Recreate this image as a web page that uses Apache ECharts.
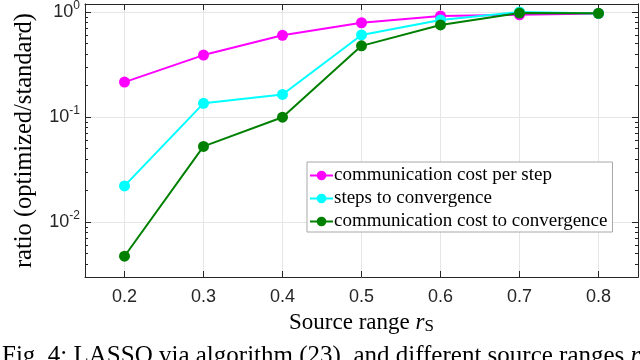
<!DOCTYPE html>
<html>
<head>
<meta charset="utf-8">
<script src="https://cdn.jsdelivr.net/npm/echarts@6/dist/echarts.min.js"></script>
<style>
html, body { margin: 0; padding: 0; background: #fff; }
#chart { width: 640px; height: 360px; }
</style>
</head>
<body>
<div id="chart"></div>
<script>
// source range r_S
let sourceRange = [0.2, 0.3, 0.4, 0.5, 0.6, 0.7, 0.8]
let costPerStep = [0.215, 0.389, 0.60, 0.79, 0.916, 0.94, 0.97]
let stepsToConv = [0.0221, 0.135, 0.164, 0.605, 0.84, 1.0, 0.97]
let costToConv = [0.00473, 0.0525, 0.0996, 0.476, 0.753, 0.978, 0.972]
let seriesNames = ['communication cost per step', 'steps to convergence', 'communication cost to convergence']
let xTicks = [0.2, 0.3, 0.4, 0.5, 0.6, 0.7, 0.8]
let yTicks = [0.01, 0.1, 1]
let yMinorTicks = [0.004, 0.005, 0.006, 0.007, 0.008, 0.009,
    0.02, 0.03, 0.04, 0.05, 0.06, 0.07, 0.08, 0.09,
    0.2, 0.3, 0.4, 0.5, 0.6, 0.7, 0.8, 0.9]

let axisColor = '#262626'
let sansFont = '"Liberation Sans", Arial, sans-serif'
let serifFont = '"Liberation Serif", "Times New Roman", serif'

let chart = echarts.init(document.getElementById('chart'))

function logAxis(pos, ticks, len, extra) {
    return Object.assign({
        type: 'log',
        logBase: 10,
        position: pos,
        min: 0.003,
        max: 1.19,
        axisLine: { show: true, lineStyle: { color: axisColor, width: 1 } },
        axisTick: { show: true, inside: true, length: len, customValues: ticks, lineStyle: { color: axisColor } },
        axisLabel: { show: false },
        splitLine: { show: false }
    }, extra || {})
}

function mkSeries(name, data, color) {
    return {
        name: name,
        type: 'line',
        data: sourceRange.map((x, i) => [x, data[i]]),
        symbol: 'circle',
        symbolSize: 11,
        lineStyle: { color: color, width: 2 },
        itemStyle: { color: color },
        emphasis: { disabled: true }
    }
}

let option = {
    backgroundColor: '#fff',
    animation: false,
    grid: { left: 85, right: 2, top: 3, bottom: 83 },
    legend: {
        orient: 'vertical',
        left: 307,
        top: 162,
        padding: [4, 5, 1, 2],
        itemGap: 4,
        itemWidth: 23,
        itemHeight: 12,
        backgroundColor: '#fff',
        borderColor: '#a8a8a8',
        borderWidth: 1,
        borderRadius: 0,
        textStyle: { fontFamily: serifFont, fontSize: 19, color: '#000', padding: [0, 0, 0, -4] },
        data: seriesNames
    },
    xAxis: [
        {
            type: 'value',
            position: 'bottom',
            min: 0.15,
            max: 0.85,
            name: 'Source range {i|r}{s|S}',
            nameLocation: 'middle',
            nameGap: 33,
            nameTextStyle: {
                fontFamily: serifFont, fontSize: 23, color: '#000',
                rich: {
                    i: { fontFamily: serifFont, fontSize: 23, fontStyle: 'italic', color: '#000' },
                    s: { fontFamily: serifFont, fontSize: 17, color: '#000', padding: [8, 0, 0, 0] }
                }
            },
            axisLine: { show: true, lineStyle: { color: axisColor, width: 1 } },
            axisTick: { show: true, inside: true, length: 6, customValues: xTicks, lineStyle: { color: axisColor } },
            axisLabel: {
                customValues: xTicks,
                fontFamily: sansFont, fontSize: 18, color: axisColor, margin: 11,
                formatter: v => v.toFixed(1)
            },
            splitLine: { show: true, lineStyle: { color: '#e6e6e6', width: 1 } }
        },
        {
            type: 'value',
            position: 'top',
            min: 0.15,
            max: 0.85,
            axisLine: { show: true, lineStyle: { color: axisColor, width: 1 } },
            axisTick: { show: true, inside: true, length: 6, customValues: xTicks, lineStyle: { color: axisColor } },
            axisLabel: { show: false },
            splitLine: { show: false }
        }
    ],
    yAxis: [
        logAxis('left', yTicks, 6, {
            name: 'ratio (optimized/standard)',
            nameLocation: 'middle',
            nameGap: 48,
            nameTextStyle: { fontFamily: serifFont, fontSize: 24.5, color: '#000' },
            axisLabel: {
                show: true,
                customValues: yTicks,
                margin: 5,
                formatter: v => '{b|10}{s|' + Math.round(Math.log10(v)) + '}',
                rich: {
                    b: { fontFamily: sansFont, fontSize: 18, color: axisColor },
                    s: { fontFamily: sansFont, fontSize: 12, color: axisColor, padding: [0, 0, 12, 0] }
                }
            },
            splitLine: { show: true, lineStyle: { color: '#e6e6e6', width: 1 } }
        }),
        logAxis('left', yMinorTicks, 3),
        logAxis('right', yTicks, 6),
        logAxis('right', yMinorTicks, 3)
    ],
    series: [
        mkSeries(seriesNames[0], costPerStep, '#ff00ff'),
        mkSeries(seriesNames[1], stepsToConv, '#00ffff'),
        mkSeries(seriesNames[2], costToConv, '#008000')
    ],
    graphic: [
        {
            type: 'text',
            left: 2,
            top: 344,
            style: {
                text: 'Fig. 4: LASSO via algorithm (23), and different source ranges {i|r}',
                fontFamily: serifFont,
                fontSize: 25,
                fill: '#000',
                rich: {
                    i: { fontFamily: serifFont, fontSize: 25, fontStyle: 'italic', fill: '#000' }
                }
            }
        }
    ]
}

chart.setOption(option)
</script>
</body>
</html>
